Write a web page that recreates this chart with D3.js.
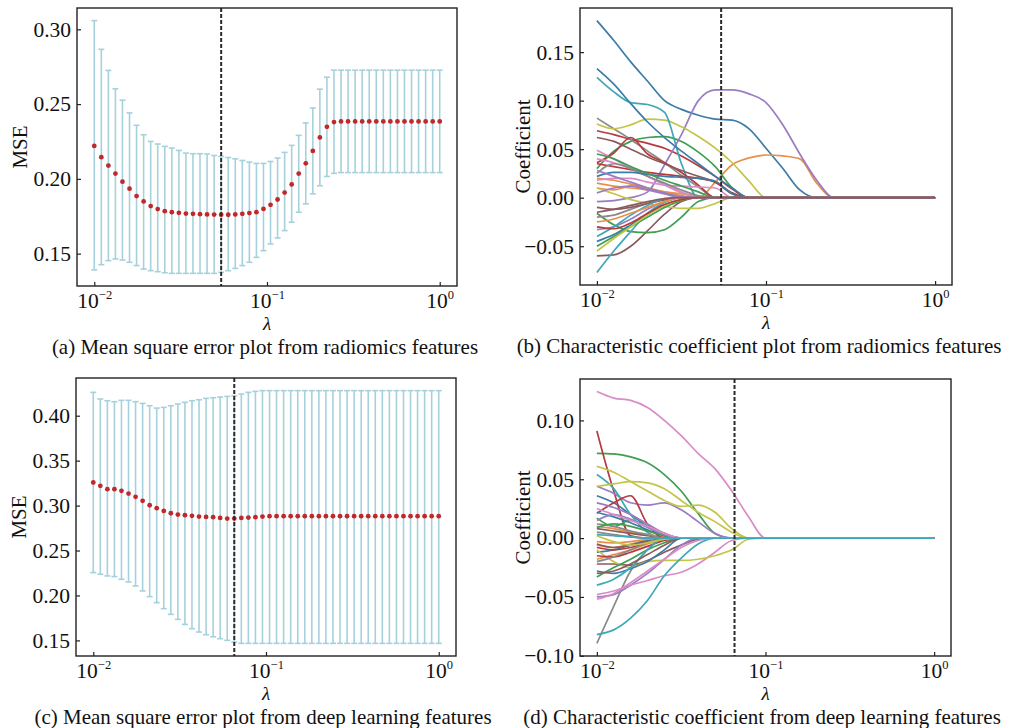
<!DOCTYPE html>
<html>
<head>
<meta charset="utf-8">
<script src="https://cdn.jsdelivr.net/npm/d3@7"></script>
<style>
body { margin: 0; background: #fff; }
svg text { font-family: "Liberation Serif", "Times New Roman", serif; fill: #111; }
</style>
</head>
<body>
<svg id="fig" width="1017" height="728"></svg>
<script>

// ---- data ----
// lambda grid of the cross-validation (50 points, 10^-2 .. 10^0)
const lambdas = [0.01, 0.010985, 0.012068, 0.013257, 0.014563, 0.015999, 0.017575, 0.019307, 0.02121, 0.0233,
  0.025595, 0.028118, 0.030888, 0.033932, 0.037276, 0.040949, 0.044984, 0.049417, 0.054287, 0.059636,
  0.065513, 0.071969, 0.07906, 0.086851, 0.09541, 0.10481, 0.11514, 0.12649, 0.13895, 0.15264,
  0.16768, 0.18421, 0.20236, 0.2223, 0.24421, 0.26827, 0.29471, 0.32375, 0.35565, 0.3907,
  0.42919, 0.47149, 0.51795, 0.56899, 0.62506, 0.68665, 0.75431, 0.82864, 0.9103, 1.0];

// (a) radiomics MSE: mean, upper and lower error bar ends
const mseRad = [0.222, 0.2145, 0.2089, 0.2035, 0.1981, 0.1934, 0.1885, 0.1849, 0.1818, 0.1798,
  0.1784, 0.1777, 0.1773, 0.1768, 0.1766, 0.1764, 0.1762, 0.1761, 0.176, 0.176,
  0.1762, 0.1766, 0.1771, 0.1777, 0.1799, 0.1826, 0.1862, 0.1908, 0.1963, 0.2035,
  0.2104, 0.2187, 0.2277, 0.2348, 0.238, 0.2384, 0.2384, 0.2384, 0.2384, 0.2384,
  0.2384, 0.2384, 0.2384, 0.2384, 0.2384, 0.2384, 0.2384, 0.2384, 0.2384, 0.2384];
const hiRad = [0.3058, 0.2866, 0.2725, 0.2602, 0.2526, 0.2441, 0.2358, 0.2295, 0.225, 0.2233,
  0.2217, 0.2206, 0.219, 0.2172, 0.2168, 0.2168, 0.2166, 0.2156, 0.215, 0.2143,
  0.2134, 0.2123, 0.2112, 0.2103, 0.2103, 0.2116, 0.2139, 0.2177, 0.2224, 0.2291,
  0.2374, 0.2474, 0.26, 0.268, 0.2727, 0.2727, 0.2727, 0.2727, 0.2727, 0.2727,
  0.2727, 0.2727, 0.2727, 0.2727, 0.2727, 0.2727, 0.2727, 0.2727, 0.2727, 0.2727];
const loRad = [0.1391, 0.1426, 0.1453, 0.1464, 0.1457, 0.1442, 0.142, 0.1397, 0.1386, 0.1379,
  0.1372, 0.1368, 0.1368, 0.1368, 0.1368, 0.1368, 0.1368, 0.1368, 0.1375, 0.1386,
  0.1401, 0.142, 0.1442, 0.1475, 0.152, 0.1565, 0.1605, 0.1654, 0.171, 0.1777,
  0.1833, 0.19, 0.1954, 0.2016, 0.2037, 0.2042, 0.2042, 0.2042, 0.2042, 0.2042,
  0.2042, 0.2042, 0.2042, 0.2042, 0.2042, 0.2042, 0.2042, 0.2042, 0.2042, 0.2042];

// (c) deep learning MSE
const mseDL = [0.3257, 0.322, 0.3183, 0.3183, 0.3164, 0.3134, 0.3097, 0.3053, 0.3004, 0.2971,
  0.2941, 0.2915, 0.29, 0.2893, 0.2886, 0.2878, 0.2874, 0.2871, 0.2863, 0.2856,
  0.2856, 0.2863, 0.2867, 0.2871, 0.2878, 0.2882, 0.2882, 0.2882, 0.2882, 0.2882,
  0.2882, 0.2882, 0.2882, 0.2882, 0.2882, 0.2882, 0.2882, 0.2882, 0.2882, 0.2882,
  0.2882, 0.2882, 0.2882, 0.2882, 0.2882, 0.2882, 0.2882, 0.2882, 0.2882, 0.2882];
const hiDL = [0.426, 0.4186, 0.4167, 0.4156, 0.4171, 0.4171, 0.4156, 0.4137, 0.4111, 0.4085,
  0.4093, 0.4111, 0.413, 0.4149, 0.4167, 0.4178, 0.4193, 0.42, 0.4208, 0.4215,
  0.4223, 0.4241, 0.426, 0.4271, 0.4279, 0.4279, 0.4279, 0.4279, 0.4279, 0.4279,
  0.4279, 0.4279, 0.4279, 0.4279, 0.4279, 0.4279, 0.4279, 0.4279, 0.4279, 0.4279,
  0.4279, 0.4279, 0.4279, 0.4279, 0.4279, 0.4279, 0.4279, 0.4279, 0.4279, 0.4279];
const loDL = [0.2254, 0.2236, 0.2217, 0.221, 0.218, 0.215, 0.2106, 0.205, 0.1987, 0.192,
  0.1853, 0.179, 0.1734, 0.1678, 0.163, 0.1593, 0.1563, 0.1541, 0.1519, 0.15,
  0.1481, 0.1467, 0.1467, 0.1467, 0.1467, 0.1467, 0.1467, 0.1467, 0.1467, 0.1467,
  0.1467, 0.1467, 0.1467, 0.1467, 0.1467, 0.1467, 0.1467, 0.1467, 0.1467, 0.1467,
  0.1467, 0.1467, 0.1467, 0.1467, 0.1467, 0.1467, 0.1467, 0.1467, 0.1467, 0.1467];

// chosen lambda (dashed line)
const bestLambdaRad = 0.054287;
const bestLambdaDL = 0.065513;

const coefLambdas = [0.01, 0.01259, 0.01585, 0.01995, 0.02512, 0.03162, 0.03981, 0.05012,
  0.0631, 0.07943, 0.1, 0.1259, 0.1585, 0.1995, 0.2512];

// (b) radiomics coefficient paths; after the last value the coefficient stays 0
const coefRad = [
  [0.1825, 0.162, 0.14, 0.12, 0.1, 0.091, 0.085, 0.081, 0.08, 0.071, 0.051, 0.03, 0.008, 0],
  [0.01, 0.008, 0.012, 0.01, 0.006, 0.002, 0, 0.016, 0.034, 0.041, 0.044, 0.043, 0.04, 0.015, 0],
  [0.03, 0.048, 0.058, 0.062, 0.063, 0.058, 0.047, 0.032, 0.01, 0],
  [0.069, 0.065, 0.06, 0.056, 0.051, 0.043, 0.033, 0.022, 0.009, 0],
  [-0.004, -0.003, 0, 0.006, 0.034, 0.065, 0.1, 0.111, 0.111, 0.107, 0.098, 0.075, 0.045, 0.018, 0],
  [-0.06, -0.059, -0.05, -0.034, -0.017, -0.004, 0],
  [0.049, 0.04, 0.03, 0.022, 0.013, 0.005, 0],
  [0.082, 0.071, 0.06, 0.048, 0.036, 0.023, 0.011, 0],
  [0.076, 0.071, 0.075, 0.081, 0.08, 0.073, 0.063, 0.051, 0.036, 0.017, 0],
  [0.124, 0.109, 0.098, 0.096, 0.088, 0.035, 0],
  [0.133, 0.117, 0.097, 0.078, 0.062, 0.048, 0.035, 0.022, 0.01, 0],
  [0.02, 0.018, 0.014, 0.01, 0.005, 0.001, 0],
  [-0.016, -0.028, -0.035, -0.036, -0.033, -0.02, -0.004, 0],
  [0.036, 0.046, 0.062, 0.045, 0.036, 0.026, 0.013, 0],
  [-0.033, -0.03, -0.022, -0.012, -0.004, 0],
  [0.062, 0.058, 0.05, 0.042, 0.035, 0.028, 0.022, 0.016, 0.004, 0],
  [0.018, 0.02, 0.02, 0.016, 0.013, 0.012, 0.011, 0.01, 0],
  [-0.02, -0.018, -0.012, -0.006, -0.002, 0],
  [0.01, 0.004, -0.002, -0.006, -0.009, -0.011, -0.011, -0.006, 0],
  [-0.077, -0.055, -0.035, -0.016, -0.005, 0],
  [-0.045, -0.038, -0.028, -0.017, -0.008, -0.002, 0],
  [0.015, 0.012, 0.01, 0.008, 0.006, 0.004, 0.002, 0],
  [-0.05, -0.04, -0.03, -0.02, -0.01, -0.003, 0],
  [0.035, 0.032, 0.029, 0.026, 0.024, 0.022, 0.02, 0.016, 0.005, 0],
  [0.005, 0.01, 0.012, 0.008, 0.004, 0],
  [-0.01, -0.012, -0.01, -0.006, -0.002, 0],
  [0.04, 0.036, 0.03, 0.022, 0.014, 0.006, 0],
  [0.025, 0.035, 0.03, 0.022, 0.015, 0.008, 0.002, 0],
  [-0.055, -0.042, -0.03, -0.018, -0.008, -0.002, 0],
  [-0.04, -0.03, -0.018, -0.008, -0.001, 0],
  [0.022, 0.026, 0.026, 0.024, 0.022, 0.021, 0.02, 0.017, 0.004, 0],
  [-0.025, -0.022, -0.016, -0.01, -0.004, 0],
  [0.045, 0.04, 0.032, 0.025, 0.018, 0.012, 0.006, 0],
  [-0.03, -0.032, -0.026, -0.016, -0.007, -0.002, 0],
  [0.028, 0.022, 0.016, 0.01, 0.005, 0.001, 0],
  [-0.015, -0.012, -0.008, -0.004, -0.001, 0]
];

// (d) deep learning coefficient paths
const coefDL = [
  [0.036, 0.03, 0.02, 0.01, 0.002, 0],
  [-0.006, -0.008, -0.005, -0.002, 0],
  [0.072, 0.0715, 0.069, 0.064, 0.054, 0.04, 0.021, 0.004, 0],
  [0.091, 0.04, 0.002, 0],
  [0.044, 0.038, 0.03, 0.028, 0.03, 0.024, 0.014, 0.004, 0],
  [-0.022, -0.022, -0.023, -0.019, -0.012, -0.006, -0.001, 0],
  [0.1245, 0.119, 0.117, 0.111, 0.1, 0.087, 0.072, 0.059, 0.04, 0.018, 0],
  [-0.0895, -0.058, -0.028, -0.01, 0],
  [0.061, 0.056, 0.048, 0.04, 0.032, 0.027, 0.028, 0.022, 0.008, 0],
  [0.054, 0.042, 0.02, 0.005, 0],
  [-0.012, -0.01, -0.006, -0.002, 0],
  [0.01, 0.008, 0.005, 0.003, 0.001, 0],
  [0.017, 0.01, 0.015, 0.01, 0.004, 0],
  [0.021, 0.03, 0.036, 0.012, 0],
  [-0.05, -0.048, -0.04, -0.03, -0.018, -0.006, 0],
  [-0.005, -0.008, -0.006, -0.003, 0],
  [-0.048, -0.045, -0.04, -0.036, -0.032, -0.029, -0.022, -0.012, -0.002, 0],
  [0.005, 0.003, 0.001, 0],
  [-0.01, -0.02, -0.025, -0.02, -0.019, -0.019, -0.018, -0.015, -0.01, -0.001, 0],
  [-0.082, -0.078, -0.068, -0.053, -0.032, -0.017, -0.005, 0],
  [-0.028, -0.03, -0.026, -0.02, -0.01, 0],
  [-0.018, -0.014, -0.01, -0.005, -0.001, 0],
  [-0.033, -0.025, -0.018, -0.01, -0.004, 0],
  [-0.015, -0.016, -0.012, -0.007, -0.002, 0],
  [0.03, 0.026, 0.02, 0.012, 0.004, 0],
  [0.008, 0.006, 0.004, 0.002, 0],
  [-0.052, -0.047, -0.038, -0.028, -0.018, -0.008, -0.002, 0],
  [0.012, 0.01, 0.006, 0.003, 0],
  [0.044, 0.046, 0.048, 0.047, 0.042, 0.032, 0.022, 0.014, 0.005, 0],
  [-0.04, -0.035, -0.025, -0.01, 0],
  [0.022, 0.018, 0.013, 0.007, 0.002, 0],
  [-0.003, -0.004, -0.003, -0.001, 0],
  [0.009, 0.012, 0.01, 0.006, 0.002, 0],
  [-0.008, -0.01, -0.008, -0.004, 0],
  [0.015, 0.02, 0.016, 0.009, 0.003, 0],
  [-0.03, -0.028, -0.022, -0.014, -0.006, 0],
  [0.025, 0.02, 0.015, 0.01, 0.004, 0],
  [-0.02, -0.016, -0.01, -0.004, 0],
  [0.002, -0.003, -0.006, -0.004, -0.001, 0],
  [0.003, 0.002, 0.001, 0]
];

// tick values
const xTickVals = [0.01, 0.1, 1];
const xTickExp = ["\u22122", "\u22121", "0"];
const yTicksA = [0.15, 0.20, 0.25, 0.30];
const yTicksB = [-0.05, 0.00, 0.05, 0.10, 0.15];
const yTicksC = [0.15, 0.20, 0.25, 0.30, 0.35, 0.40];
const yTicksD = [-0.10, -0.05, 0.00, 0.05, 0.10];

const captions = [
  "(a) Mean square error plot from radiomics features",
  "(b) Characteristic coefficient plot from radiomics features",
  "(c) Mean square error plot from deep learning features",
  "(d) Characteristic coefficient from deep learning features"
];

// ---- drawing ----
const palette = ["#3b7ca8", "#e8904a", "#3e9e52", "#b73a3e", "#9a7cc4",
                 "#8c5a5e", "#d98cc8", "#8a8a8a", "#c4c44a", "#3fa8b8"];

const svg = d3.select("#fig");

// matplotlib-like 5% margins
function padded(lo, hi) {
  const p = (hi - lo) * 0.05;
  return [lo - p, hi + p];
}

function setupPanel(box, yDom) {
  const x = d3.scaleLog()
    .domain([Math.pow(10, -2.1), Math.pow(10, 0.1)])
    .range([box.left, box.left + box.width]);
  const y = d3.scaleLinear()
    .domain(yDom)
    .range([box.top + box.height, box.top]);
  return { x, y, box, g: svg.append("g") };
}

function finishPanel(P, yTicks, yLabel, caption, capX, bestLambda) {
  const { x, y, box, g } = P;
  const bottom = box.top + box.height;

  // dashed line at the selected lambda
  g.append("line")
    .attr("x1", x(bestLambda)).attr("x2", x(bestLambda))
    .attr("y1", box.top).attr("y2", bottom)
    .attr("stroke", "#2a2a2a").attr("stroke-width", 2)
    .attr("stroke-dasharray", "4,2");

  // y axis, ticks pointing inside
  const ya = g.append("g")
    .attr("transform", `translate(${box.left},0)`)
    .call(d3.axisLeft(y).tickValues(yTicks).tickSize(-4).tickPadding(6)
      .tickFormat(d3.format(".2f")));
  ya.select(".domain").remove();
  ya.selectAll("line").attr("stroke", "#222").attr("stroke-width", 1.2);
  ya.selectAll("text").attr("font-size", 21.5).attr("fill", "#111")
    .style("font-family", "'Liberation Serif', serif");

  // x axis with 10^n labels
  const xa = g.append("g")
    .attr("transform", `translate(0,${bottom})`)
    .call(d3.axisBottom(x).tickValues(xTickVals).tickSize(-4).tickFormat(""));
  xa.select(".domain").remove();
  xa.selectAll("line").attr("stroke", "#222").attr("stroke-width", 1.2);
  xa.selectAll(".tick text").remove();
  xa.selectAll(".tick").each(function (d, i) {
    const t = d3.select(this).append("text")
      .attr("y", 22).attr("text-anchor", "middle")
      .attr("font-size", 21.5).attr("fill", "#111")
      .style("font-family", "'Liberation Serif', serif");
    t.append("tspan").text("10");
    t.append("tspan").attr("dy", -9).attr("font-size", 12.5).text(xTickExp[i]);
  });

  // frame
  g.append("rect")
    .attr("x", box.left).attr("y", box.top)
    .attr("width", box.width).attr("height", box.height)
    .attr("fill", "none").attr("stroke", "#222").attr("stroke-width", 1.4);

  // labels
  g.append("text")
    .attr("x", box.left + box.width / 2).attr("y", bottom + 44)
    .attr("text-anchor", "middle").attr("font-size", 19)
    .attr("font-style", "italic").text("\u03bb");

  g.append("text")
    .attr("transform", `translate(${box.left - 57},${box.top + box.height / 2}) rotate(-90)`)
    .attr("text-anchor", "middle").attr("dominant-baseline", "central")
    .attr("font-size", 21).text(yLabel);

  svg.append("text")
    .attr("x", capX).attr("y", bottom + 68)
    .attr("text-anchor", "middle").attr("font-size", 21)
    .text(caption);
}

function drawMSE(box, mean, hi, lo, yTicks, caption, capX, bestLambda) {
  const P = setupPanel(box, padded(d3.min(lo), d3.max(hi)));
  const { x, y, g } = P;
  const cap = 3;
  const bars = g.append("g").attr("stroke", "#a6d1dc").attr("stroke-width", 1.6);
  lambdas.forEach((l, i) => {
    const cx = x(l);
    bars.append("line").attr("x1", cx).attr("x2", cx).attr("y1", y(lo[i])).attr("y2", y(hi[i]));
    bars.append("line").attr("x1", cx - cap).attr("x2", cx + cap).attr("y1", y(hi[i])).attr("y2", y(hi[i]));
    bars.append("line").attr("x1", cx - cap).attr("x2", cx + cap).attr("y1", y(lo[i])).attr("y2", y(lo[i]));
  });
  g.append("g").selectAll("circle")
    .data(mean)
    .join("circle")
    .attr("cx", (d, i) => x(lambdas[i]))
    .attr("cy", d => y(d))
    .attr("r", 2.4)
    .attr("fill", "#c0282c");
  finishPanel(P, yTicks, "MSE", caption, capX, bestLambda);
}

function drawCoef(box, paths, yTicks, caption, capX, bestLambda) {
  const all = paths.flat();
  const P = setupPanel(box, padded(d3.min(all), d3.max(all)));
  const { x, y, g } = P;
  const line = d3.line()
    .x(d => x(d[0])).y(d => y(d[1]))
    .curve(d3.curveMonotoneX);
  paths.forEach((vals, i) => {
    const pts = vals.map((v, k) => [coefLambdas[k], v]);
    pts.push([1, 0]); // path stays at zero up to lambda = 1
    g.append("path")
      .attr("d", line(pts))
      .attr("fill", "none")
      .attr("stroke", palette[i % 10])
      .attr("stroke-width", 1.7);
  });
  finishPanel(P, yTicks, "Coefficient", caption, capX, bestLambda);
}

drawMSE({ left: 77, top: 8, width: 380, height: 278 }, mseRad, hiRad, loRad, yTicksA, captions[0], 265, bestLambdaRad);
drawCoef({ left: 580, top: 8, width: 372, height: 277 }, coefRad, yTicksB, captions[1], 759, bestLambdaRad);
drawMSE({ left: 76, top: 378, width: 380, height: 278 }, mseDL, hiDL, loDL, yTicksC, captions[2], 263, bestLambdaDL);
drawCoef({ left: 580, top: 379, width: 371, height: 277 }, coefDL, yTicksD, captions[3], 762, bestLambdaDL);

</script>
</body>
</html>
